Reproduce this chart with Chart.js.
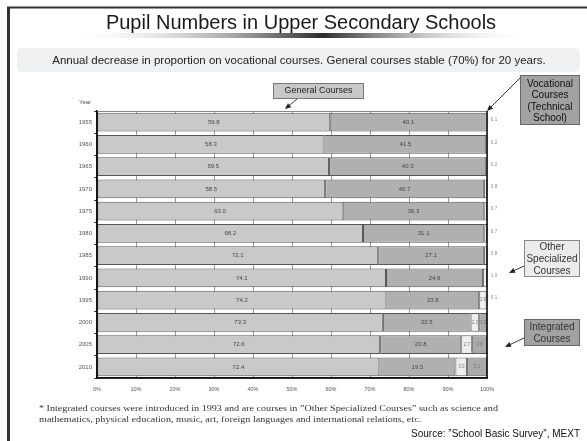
<!DOCTYPE html>
<html>
<head>
<meta charset="utf-8">
<script src="https://cdn.jsdelivr.net/npm/chart.js@4.4.0/dist/chart.umd.min.js"></script>
<style>
  html, body { margin: 0; padding: 0; background: #fff; }
  canvas { display: block; }
</style>
</head>
<body>
<canvas id="c" width="587" height="441"></canvas>
<script>
// Share of upper secondary pupils by course type (%)
const years = ['1955', '1960', '1965', '1970', '1975', '1980', '1985', '1990', '1995', '2000', '2005', '2010'];
const generalCourses    = [59.8, 58.3, 59.5, 58.5, 63.0, 68.2, 72.1, 74.1, 74.2, 73.3, 72.6, 72.4];
const vocationalCourses = [40.1, 41.5, 40.3, 40.7, 36.3, 31.1, 27.1, 24.9, 23.8, 22.5, 20.8, 19.5];
const otherSpecialized  = [0.1, 0.2, 0.2, 0.8, 0.7, 0.7, 0.8, 1.0, 1.9, 2.2, 2.7, 3.0];
const integratedCourses = [null, null, null, null, null, null, null, null, 0.1, 2.0, 3.9, 5.1];
const percentTicks = [0, 10, 20, 30, 40, 50, 60, 70, 80, 90, 100];

const SANS = '"Liberation Sans", Arial, sans-serif';

function arrow(ctx, x1, y1, x2, y2) {
  const a = Math.atan2(y2 - y1, x2 - x1);
  const len = 6, half = 2.6;
  ctx.save();
  ctx.strokeStyle = '#222';
  ctx.fillStyle = '#222';
  ctx.lineWidth = 0.9;
  ctx.beginPath();
  ctx.moveTo(x1, y1);
  ctx.lineTo(x2 - Math.cos(a) * len * 0.8, y2 - Math.sin(a) * len * 0.8);
  ctx.stroke();
  ctx.beginPath();
  ctx.moveTo(x2, y2);
  ctx.lineTo(x2 - Math.cos(a) * len - Math.sin(a) * half, y2 - Math.sin(a) * len + Math.cos(a) * half);
  ctx.lineTo(x2 - Math.cos(a) * len + Math.sin(a) * half, y2 - Math.sin(a) * len - Math.cos(a) * half);
  ctx.closePath();
  ctx.fill();
  ctx.restore();
}

function callout(ctx, x, y, w, h, fill, stroke, lines, cy, lh, size, color) {
  ctx.save();
  ctx.fillStyle = fill;
  ctx.fillRect(x, y, w, h);
  ctx.strokeStyle = stroke;
  ctx.lineWidth = 1;
  ctx.strokeRect(x + 0.5, y + 0.5, w - 1, h - 1);
  ctx.fillStyle = color;
  ctx.font = size + 'px ' + SANS;
  ctx.textAlign = 'center';
  ctx.textBaseline = 'middle';
  lines.forEach((t, i) => ctx.fillText(t, x + w / 2, cy + i * lh));
  ctx.restore();
}

const pagePlugin = {
  id: 'page',
  beforeDraw(chart) {
    const ctx = chart.ctx;
    ctx.save();
    ctx.fillStyle = '#fff';
    ctx.fillRect(0, 0, chart.width, chart.height);

    // heading
    ctx.fillStyle = '#1a1a1a';
    ctx.font = '20px ' + SANS;
    ctx.textAlign = 'center';
    ctx.textBaseline = 'middle';
    ctx.fillText('Pupil Numbers in Upper Secondary Schools', 301, 23);

    // shaded rule under the heading
    const g = ctx.createLinearGradient(66, 0, 533, 0);
    g.addColorStop(0, 'rgba(255,255,255,0)');
    g.addColorStop(0.55, '#2b2b2b');
    g.addColorStop(1, 'rgba(255,255,255,0)');
    ctx.fillStyle = g;
    ctx.fillRect(66, 33, 467, 5);

    // summary band
    ctx.fillStyle = '#eef0f2';
    ctx.beginPath();
    ctx.roundRect(17, 48, 563, 24, 5);
    ctx.fill();
    ctx.fillStyle = '#222';
    ctx.font = '11.5px ' + SANS;
    ctx.fillText('Annual decrease in proportion on vocational courses. General courses stable (70%) for 20 years.', 299, 60.5);
    ctx.restore();
  },
  afterDatasetsDraw(chart) {
    const ctx = chart.ctx;
    const a = chart.chartArea;
    ctx.save();

    // segment values
    chart.data.datasets.forEach((ds, di) => {
      const meta = chart.getDatasetMeta(di);
      meta.data.forEach((bar, i) => {
        const v = ds.data[i];
        if (v === null || v === undefined) return;
        const w = Math.abs(bar.x - bar.base);
        const txt = v.toFixed(1);
        ctx.textBaseline = 'middle';
        ctx.textAlign = 'center';
        if (w >= 5.5) {
          const big = w > 40;
          ctx.font = (big ? 6 : 4.5) + 'px ' + SANS;
          ctx.fillStyle = big ? '#444' : '#777';
          ctx.fillText(txt, (bar.x + bar.base) / 2, bar.y);
        } else {
          ctx.font = '4.5px ' + SANS;
          ctx.fillStyle = '#888';
          ctx.fillText(txt, a.right + 7, bar.y - 2);
        }
      });
    });

    // plot frame
    ctx.strokeStyle = '#888';
    ctx.lineWidth = 1;
    ctx.beginPath();
    ctx.moveTo(a.left, a.top + 0.5);
    ctx.lineTo(a.right, a.top + 0.5);
    ctx.stroke();
    ctx.strokeStyle = '#111';
    ctx.lineWidth = 1.5;
    ctx.beginPath();
    ctx.moveTo(a.left, a.top);
    ctx.lineTo(a.left, a.bottom);
    ctx.lineTo(a.right, a.bottom);
    ctx.lineTo(a.right, a.top);
    ctx.stroke();

    // axis caption
    ctx.fillStyle = '#555';
    ctx.font = '6px ' + SANS;
    ctx.textAlign = 'center';
    ctx.textBaseline = 'middle';
    ctx.fillText('Year', 85, 102);

    // callouts
    callout(ctx, 273, 83, 91, 16, '#c8c8c8', '#777', ['General Courses'], 91, 0, 9, '#222');
    arrow(ctx, 297, 99, 285, 109);
    callout(ctx, 520, 75, 60, 50, '#a2a2a2', '#666', ['Vocational', 'Courses', '(Technical', 'School)'], 84, 11.5, 10, '#111');
    arrow(ctx, 520, 78, 487, 111);
    callout(ctx, 524, 240, 56, 37, '#ececec', '#888', ['Other', 'Specialized', 'Courses'], 247.5, 12, 10, '#333');
    arrow(ctx, 524, 266, 509, 273);
    callout(ctx, 524, 319, 56, 27, '#a2a2a2', '#666', ['Integrated', 'Courses'], 327.5, 11.5, 10, '#333');
    arrow(ctx, 524, 338, 505, 347);

    // footnote
    const note1 = '* Integrated courses were introduced in 1993 and are courses in \u201DOther Specialized Courses\u201D such as science and';
    const note2 = 'mathematics, physical education, music, art, foreign languages and international relations, etc.';
    ctx.font = '8.5px "Liberation Serif", "DejaVu Serif", serif';
    ctx.fillStyle = '#333';
    ctx.textAlign = 'left';
    const sx = 459 / ctx.measureText(note1).width;
    ctx.save();
    ctx.translate(39, 0);
    ctx.scale(sx, 1);
    ctx.fillText(note1, 0, 409);
    ctx.fillText(note2, 0, 420);
    ctx.restore();

    // source
    ctx.fillStyle = '#111';
    ctx.font = '10px ' + SANS;
    ctx.textAlign = 'right';
    ctx.fillText('Source: \u201DSchool Basic Survey\u201D, MEXT', 580, 434);

    // page frame
    ctx.fillStyle = '#333';
    ctx.fillRect(7, 7, 3, chart.height - 7);
    ctx.fillRect(7, 6.5, chart.width - 7, 2);
    ctx.restore();
  }
};

new Chart(document.getElementById('c'), {
  type: 'bar',
  data: {
    labels: years,
    datasets: [
      { label: 'General Courses', data: generalCourses, backgroundColor: '#c9c9c9' },
      { label: 'Vocational Courses', data: vocationalCourses, backgroundColor: '#b0b0b0' },
      { label: 'Other Specialized Courses', data: otherSpecialized, backgroundColor: '#eeeeee' },
      { label: 'Integrated Courses', data: integratedCourses, backgroundColor: '#aaaaaa' }
    ].map(d => Object.assign(d, {
      borderColor: '#555',
      borderWidth: 1,
      borderSkipped: false,
      barPercentage: 0.85,
      categoryPercentage: 1
    }))
  },
  options: {
    indexAxis: 'y',
    responsive: false,
    devicePixelRatio: 1,
    animation: false,
    events: [],
    layout: { padding: { left: 0, right: 100, top: 111, bottom: 0 } },
    plugins: { legend: { display: false }, tooltip: { enabled: false } },
    scales: {
      x: {
        stacked: true,
        min: 0,
        max: 100,
        afterFit(scale) { scale.height = 63; },
        afterBuildTicks(scale) { scale.ticks = percentTicks.map(v => ({ value: v })); },
        grid: { color: '#999', lineWidth: 1, drawTicks: false },
        border: { display: true, color: '#111', width: 1.5 },
        ticks: {
          padding: 8,
          color: '#555',
          font: { family: SANS, size: 5.5 },
          callback: v => v + '%',
          maxRotation: 0
        }
      },
      y: {
        stacked: true,
        afterFit(scale) { scale.width = 97; },
        grid: { drawOnChartArea: false, drawTicks: true, tickLength: 3, color: '#333' },
        border: { display: true, color: '#111', width: 1.5 },
        ticks: {
          padding: 2,
          color: '#555',
          font: { family: SANS, size: 6 }
        }
      }
    }
  },
  plugins: [pagePlugin]
});
</script>
</body>
</html>
